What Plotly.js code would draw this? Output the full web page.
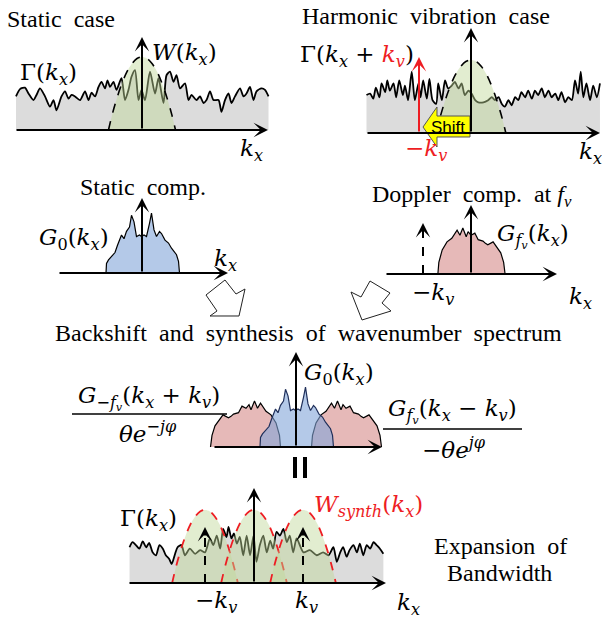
<!DOCTYPE html>
<html><head><meta charset="utf-8">
<script src="https://cdn.plot.ly/plotly-3.0.1.min.js"></script>
<style>html,body{margin:0;padding:0;background:#fff;}#chart{width:602px;height:619px;}</style>
</head><body><div id="chart"></div>
<script>
// ---------------- data (k_x in units of k_v, amplitude normalised to window peak) ----------------
const KV = 1;
// Γ(k_x) : static ground spectrum
const gammaX = [-2.52,-2.44,-2.34,-2.27,-2.17,-2.11,-2.04,-1.94,-1.84,-1.77,-1.71,-1.61,-1.54,-1.47,-1.41,-1.34,-1.24,-1.14,-1.07,-1.01,-0.94,-0.87,-0.81,-0.74,-0.69,-0.64,-0.57,-0.51,-0.41,-0.34,-0.27,-0.21,-0.14,-0.07,-0.01,0.06,0.16,0.26,0.33,0.43,0.49,0.56,0.63,0.69,0.76,0.86,0.93,0.99,1.09,1.16,1.23,1.29,1.36,1.43,1.53,1.59,1.66,1.73,1.79,1.86,1.96,2.03,2.09,2.16,2.23,2.29,2.39,2.46,2.53];
const gammaY = [0.46,0.56,0.58,0.50,0.41,0.48,0.57,0.46,0.32,0.41,0.27,0.46,0.53,0.43,0.48,0.46,0.41,0.53,0.41,0.51,0.46,0.59,0.66,0.57,0.68,0.59,0.66,0.55,0.71,0.41,0.55,0.73,0.82,0.41,0.55,0.41,0.80,0.50,0.71,0.37,0.75,0.80,0.66,0.75,0.57,0.64,0.41,0.48,0.41,0.46,0.37,0.41,0.53,0.41,0.41,0.25,0.41,0.50,0.37,0.46,0.57,0.46,0.50,0.59,0.41,0.53,0.57,0.55,0.46];
// Γ(k_x + k_v) : harmonic vibration case
const gammaShiftX = [-2.01,-1.94,-1.88,-1.83,-1.76,-1.72,-1.65,-1.61,-1.56,-1.49,-1.44,-1.38,-1.31,-1.27,-1.21,-1.14,-1.08,-1.01,-0.97,-0.92,-0.85,-0.80,-0.74,-0.67,-0.63,-0.56,-0.50,-0.44,-0.37,-0.31,-0.24,-0.18,-0.12,-0.05,0.01,0.08,0.14,0.24,0.33,0.40,0.46,0.53,0.59,0.65,0.72,0.78,0.85,0.91,0.97,1.04,1.10,1.17,1.23,1.29,1.36,1.42,1.49,1.55,1.62,1.68,1.74,1.81,1.87,1.94,2.00,2.06,2.11,2.16,2.22,2.29,2.35,2.42,2.48];
const gammaShiftY = [0.52,0.54,0.47,0.62,0.49,0.68,0.56,0.72,0.58,0.68,0.49,0.72,0.52,0.65,0.45,0.84,0.45,0.68,0.49,0.72,0.47,0.74,0.45,0.40,0.68,0.45,0.72,0.61,0.65,0.70,0.61,0.68,0.52,0.58,0.54,0.45,0.42,0.42,0.45,0.49,0.45,0.49,0.40,0.36,0.45,0.38,0.49,0.45,0.56,0.49,0.58,0.47,0.58,0.52,0.61,0.49,0.58,0.49,0.54,0.45,0.56,0.42,0.49,0.45,0.72,0.54,0.84,0.49,0.68,0.45,0.65,0.49,0.68];
// Γ(k_x) : bottom (synthesis) panel
const gammaBotX = [-2.54,-2.48,-2.41,-2.34,-2.27,-2.20,-2.14,-2.07,-2.00,-1.93,-1.86,-1.80,-1.73,-1.68,-1.61,-1.56,-1.48,-1.41,-1.31,-1.20,-1.10,-1.00,-0.90,-0.83,-0.76,-0.69,-0.63,-0.56,-0.52,-0.46,-0.41,-0.35,-0.29,-0.22,-0.15,-0.08,-0.01,0.05,0.12,0.19,0.26,0.33,0.39,0.46,0.53,0.60,0.67,0.73,0.80,0.87,1.01,1.14,1.28,1.41,1.52,1.62,1.69,1.76,1.82,1.89,1.95,2.03,2.10,2.16,2.23,2.30,2.37,2.44,2.50,2.57,2.64];
const gammaBotY = [0.49,0.56,0.52,0.47,0.57,0.49,0.55,0.42,0.38,0.52,0.47,0.38,0.33,0.26,0.40,0.49,0.52,0.38,0.47,0.40,0.45,0.42,0.61,0.52,0.65,0.47,0.74,0.63,0.77,0.61,0.68,0.54,0.63,0.38,0.65,0.38,0.65,0.29,0.52,0.65,0.42,0.58,0.47,0.70,0.65,0.74,0.56,0.65,0.42,0.61,0.42,0.45,0.38,0.42,0.38,0.49,0.29,0.42,0.49,0.36,0.45,0.52,0.42,0.54,0.38,0.52,0.47,0.56,0.52,0.47,0.40];
// W(k_x) : antenna window
const windowX = [-0.67,-0.6,-0.5,-0.4,-0.3,-0.2,-0.1,0,0.1,0.2,0.3,0.4,0.5,0.6,0.67];
const windowY = [0,0.2,0.44,0.64,0.8,0.91,0.98,1,0.98,0.91,0.8,0.64,0.44,0.2,0];
// G_0(k_x) : static component
const g0X = [-0.72,-0.71,-0.67,-0.61,-0.54,-0.49,-0.45,-0.41,-0.36,-0.31,-0.25,-0.21,-0.16,-0.14,-0.11,-0.05,-0.01,0.04,0.09,0.15,0.19,0.24,0.29,0.35,0.39,0.46,0.53,0.59,0.64,0.69,0.73,0.75];
const g0Y = [0,0.13,0.18,0.22,0.28,0.38,0.44,0.52,0.47,0.57,0.63,0.79,0.70,0.59,0.50,0.52,0.50,0.52,0.50,0.68,0.82,0.59,0.50,0.57,0.54,0.45,0.41,0.34,0.30,0.25,0.16,0];
// G_fv(k_x) : Doppler component at f_v
const gfvX = [-0.69,-0.67,-0.60,-0.50,-0.40,-0.29,-0.23,-0.17,-0.10,-0.06,0,0.08,0.15,0.25,0.30,0.35,0.46,0.54,0.62,0.68,0.71];
const gfvY = [0,0.16,0.33,0.44,0.49,0.60,0.53,0.63,0.51,0.58,0.53,0.56,0.47,0.45,0.42,0.40,0.44,0.37,0.29,0.16,0];

// ---------------- layout geometry (pixels) ----------------
const W = 602, H = 619;
const panels = [
  {cx:142, ux:50, ay:130, uy:73, axis:[15,268],  top:37},   // A static case
  {cx:471, ux:52, ay:133, uy:73, axis:[366,600], top:28},   // B harmonic vibration case
  {cx:142, ux:50, ay:273, uy:73, axis:[58,228],  top:198},  // C static comp.
  {cx:471, ux:48, ay:274, uy:73, axis:[385,557], top:205},  // D Doppler comp.
  {cx:296, ux:50, ay:447, uy:73, axis:[213,382], top:352},  // E backshift
  {cx:254, ux:49, ay:583, uy:73, axis:[128,386], top:488}   // F synthesis
];
const layout = {
  width:W, height:H, margin:{l:0,r:0,t:0,b:0},
  paper_bgcolor:'#fff', plot_bgcolor:'rgba(0,0,0,0)', showlegend:false,
  annotations:[], shapes:[]
};
panels.forEach((p,i)=>{
  const n = i===0 ? '' : String(i+1);
  p.xa = 'x'+n; p.ya = 'y'+n;
  layout['xaxis'+n] = {domain:[0,1], range:[(0-p.cx)/p.ux,(W-p.cx)/p.ux], visible:false, fixedrange:true, anchor:p.ya};
  layout['yaxis'+n] = {domain:[0,1], range:[(p.ay-H)/p.uy, p.ay/p.uy], visible:false, fixedrange:true, anchor:p.xa};
  p.kx = px => (px-p.cx)/p.ux;
  p.amp = py => (p.ay-py)/p.uy;
});
const [A,B,C,D,E,F] = panels;

const GRAY = '#dcdcdc';
const GREEN = 'rgba(190,214,150,0.45)';
const BLUE = 'rgba(130,165,217,0.6)';
const PINK = '#e6b9b8';
const RED = '#ee1d23';

const traces = [];
function tr(p, x, y, o){ traces.push(Object.assign({x:x, y:y, xaxis:p.xa, yaxis:p.ya, mode:'lines', hoverinfo:'skip'}, o)); }
const noiseStyle = {line:{color:'#000',width:1.8,shape:'spline',smoothing:0.7}, fill:'tozeroy', fillcolor:GRAY};

// A
tr(A, gammaX, gammaY, noiseStyle);
tr(A, windowX, windowY, {fill:'toself', fillcolor:GREEN, line:{color:'#000',width:1.6,dash:'dash',shape:'spline'}});
// B
tr(B, gammaShiftX, gammaShiftY, noiseStyle);
tr(B, windowX, windowY, {fill:'toself', fillcolor:GREEN, line:{color:'#000',width:1.6,dash:'dash',shape:'spline'}});
// C
tr(C, g0X, g0Y, {fill:'toself', fillcolor:BLUE, line:{color:'#000',width:1.2}});
// D
tr(D, gfvX, gfvY, {fill:'toself', fillcolor:PINK, line:{color:'#000',width:1.2}});
// E
tr(E, gfvX.map(v=>-v-KV), gfvY, {fill:'toself', fillcolor:PINK, line:{color:'#000',width:1.2}});
tr(E, gfvX.map(v=>v+KV), gfvY, {fill:'toself', fillcolor:PINK, line:{color:'#000',width:1.2}});
tr(E, g0X, g0Y, {fill:'toself', fillcolor:BLUE, line:{color:'#1f2f5a',width:1.2}});
// F
tr(F, gammaBotX, gammaBotY, noiseStyle);
[-KV, 0, KV].forEach(c=>{
  tr(F, windowX.map(v=>v+c), windowY, {fill:'toself', fillcolor:GREEN, line:{color:RED,width:1.8,dash:'dash',shape:'spline'}});
});

// ---------------- arrows ----------------
function arrow(p, x0,y0,x1,y1, color){
  layout.annotations.push({xref:p.xa, yref:p.ya, axref:p.xa, ayref:p.ya, x:x1, y:y1, ax:x0, ay:y0,
    showarrow:true, arrowhead:3, arrowsize:1.2, arrowwidth:2, arrowcolor:color||'#000', text:''});
}
function dashedArrow(p, x, topPy, color){
  const c = color||'#000';
  layout.shapes.push({type:'line', xref:p.xa, yref:p.ya, x0:x, x1:x, y0:0, y1:p.amp(topPy+7), line:{color:c,width:2,dash:'dash'}});
  layout.annotations.push({xref:p.xa, yref:p.ya, x:x, y:p.amp(topPy), ax:0, ay:10, showarrow:true, arrowhead:3, arrowsize:1.2, arrowwidth:2, arrowcolor:c, text:''});
}
panels.forEach(p=>{
  arrow(p, p.kx(p.axis[0]), 0, p.kx(p.axis[1]), 0);
  arrow(p, 0, 0, 0, p.amp(p.top));
});
arrow(B, -KV, 0, -KV, B.amp(57), RED);
dashedArrow(D, -KV, 223);
dashedArrow(F, -KV, 527);
dashedArrow(F, KV, 527);

// ---------------- decorative shapes (pixel positions -> paper) ----------------
const PX = x => x/W, PY = y => 1-y/H;
function poly(pts){ return pts.map((p,i)=>(i?'L':'M')+PX(p[0]).toFixed(5)+','+PY(p[1]).toFixed(5)).join('')+'Z'; }
layout.shapes.push({type:'path', xref:'paper', yref:'paper', path:poly([[423,127],[437,107],[437,116],[470,116],[470,137],[437,137],[437,147]]), fillcolor:'#ffff00', line:{color:'#555',width:1}});
layout.shapes.push({type:'path', xref:'paper', yref:'paper', path:poly([[225,280],[236,294],[245,289],[239,316],[210,316],[217,311],[206,295]]), fillcolor:'#fff', line:{color:'#222',width:1}});
layout.shapes.push({type:'path', xref:'paper', yref:'paper', path:poly([[351,292],[361,297],[370,281],[390,293],[382,303],[391,311],[362,320]]), fillcolor:'#fff', line:{color:'#222',width:1}});
// fraction bars
layout.shapes.push({type:'line', xref:'paper', yref:'paper', x0:PX(72), x1:PX(227), y0:PY(414), y1:PY(414), line:{color:'#000',width:1.5}});
layout.shapes.push({type:'line', xref:'paper', yref:'paper', x0:PX(383), x1:PX(522), y0:PY(429), y1:PY(429), line:{color:'#000',width:1.5}});
// rotated "=" sign
[[293,297],[303,307]].forEach(b=>layout.shapes.push({type:'rect', xref:'paper', yref:'paper', x0:PX(b[0]), x1:PX(b[1]), y0:PY(457), y1:PY(478), fillcolor:'#000', line:{width:0}}));

// ---------------- texts ----------------
const SERIF = '"Liberation Serif", "Times New Roman", Times, serif';
const MATH = '"DejaVu Serif", serif';
function txt(s, px, py, o){
  o = o||{};
  layout.annotations.push({xref:'paper', yref:'paper', x:PX(px), y:PY(py), xanchor:o.anchor||'left', yanchor:'middle',
    text:s, showarrow:false, font:{family:o.family||SERIF, size:o.size||24, color:o.color||'#000'}});
}
const k = s => '<i>k</i><sub><i>'+s+'</i></sub>';
const red = s => '<span style="color:'+RED+'">'+s+'</span>';
const sp = '\u2002';
txt('Static'+sp+'case', 5, 19);
txt('Harmonic'+sp+'vibration'+sp+'case', 300, 16);
txt('Static'+sp+'comp.', 78, 187);
txt('Doppler'+sp+'comp.'+sp+'at <i>f</i><sub><i>v</i></sub>', 370, 196);
txt('Backshift'+sp+'and'+sp+'synthesis'+sp+'of'+sp+'wavenumber'+sp+'spectrum', 53, 333);
txt('Expansion'+sp+'of', 500, 546, {anchor:'center'});
txt('Bandwidth', 499, 573, {anchor:'center'});

const M = {family:MATH, size:23};
const MC = Object.assign({anchor:'center'}, M);
txt('<i>W</i>('+k('x')+')', 150, 54, M);
txt('Γ('+k('x')+')', 18, 74, M);
txt(k('x'), 238, 150, M);
txt('Γ('+k('x')+' + '+red(k('v'))+')', 298, 56, M);
txt(red('−'+k('v')), 403, 150, M);
txt(k('x'), 577, 153, M);
txt('Shift', 448, 127, {family:'"Liberation Sans", Arial, sans-serif', size:17, anchor:'center', color:'#000'});
txt('<i>G</i><sub>0</sub>('+k('x')+')', 37, 239, M);
txt(k('x'), 212, 260, M);
txt('<i>G</i><sub><i>f</i><sub><i>v</i></sub></sub>('+k('x')+')', 495, 236, M);
txt('−'+k('v'), 410, 294, M);
txt(k('x'), 567, 298, M);
txt('<i>G</i><sub>0</sub>('+k('x')+')', 302, 374, M);
txt('<i>G</i><sub>−<i>f</i><sub><i>v</i></sub></sub>('+k('x')+' + '+k('v')+')', 149, 398, MC);
txt('<i>θe</i><sup>−<i>jφ</i></sup>', 148, 432, MC);
txt('<i>G</i><sub><i>f</i><sub><i>v</i></sub></sub>('+k('x')+' − '+k('v')+')', 452, 411, MC);
txt('−<i>θe</i><sup><i>jφ</i></sup>', 454, 448, MC);
txt('Γ('+k('x')+')', 118, 520, M);
txt(red('<i>W</i><sub><i>synth</i></sub>('+k('x')+')'), 312, 506, M);
txt('−'+k('v'), 193, 602, M);
txt(k('v'), 293, 602, M);
txt(k('x'), 395, 604, M);

Plotly.newPlot('chart', traces, layout, {staticPlot:true, displayModeBar:false});
</script>
</body></html>
